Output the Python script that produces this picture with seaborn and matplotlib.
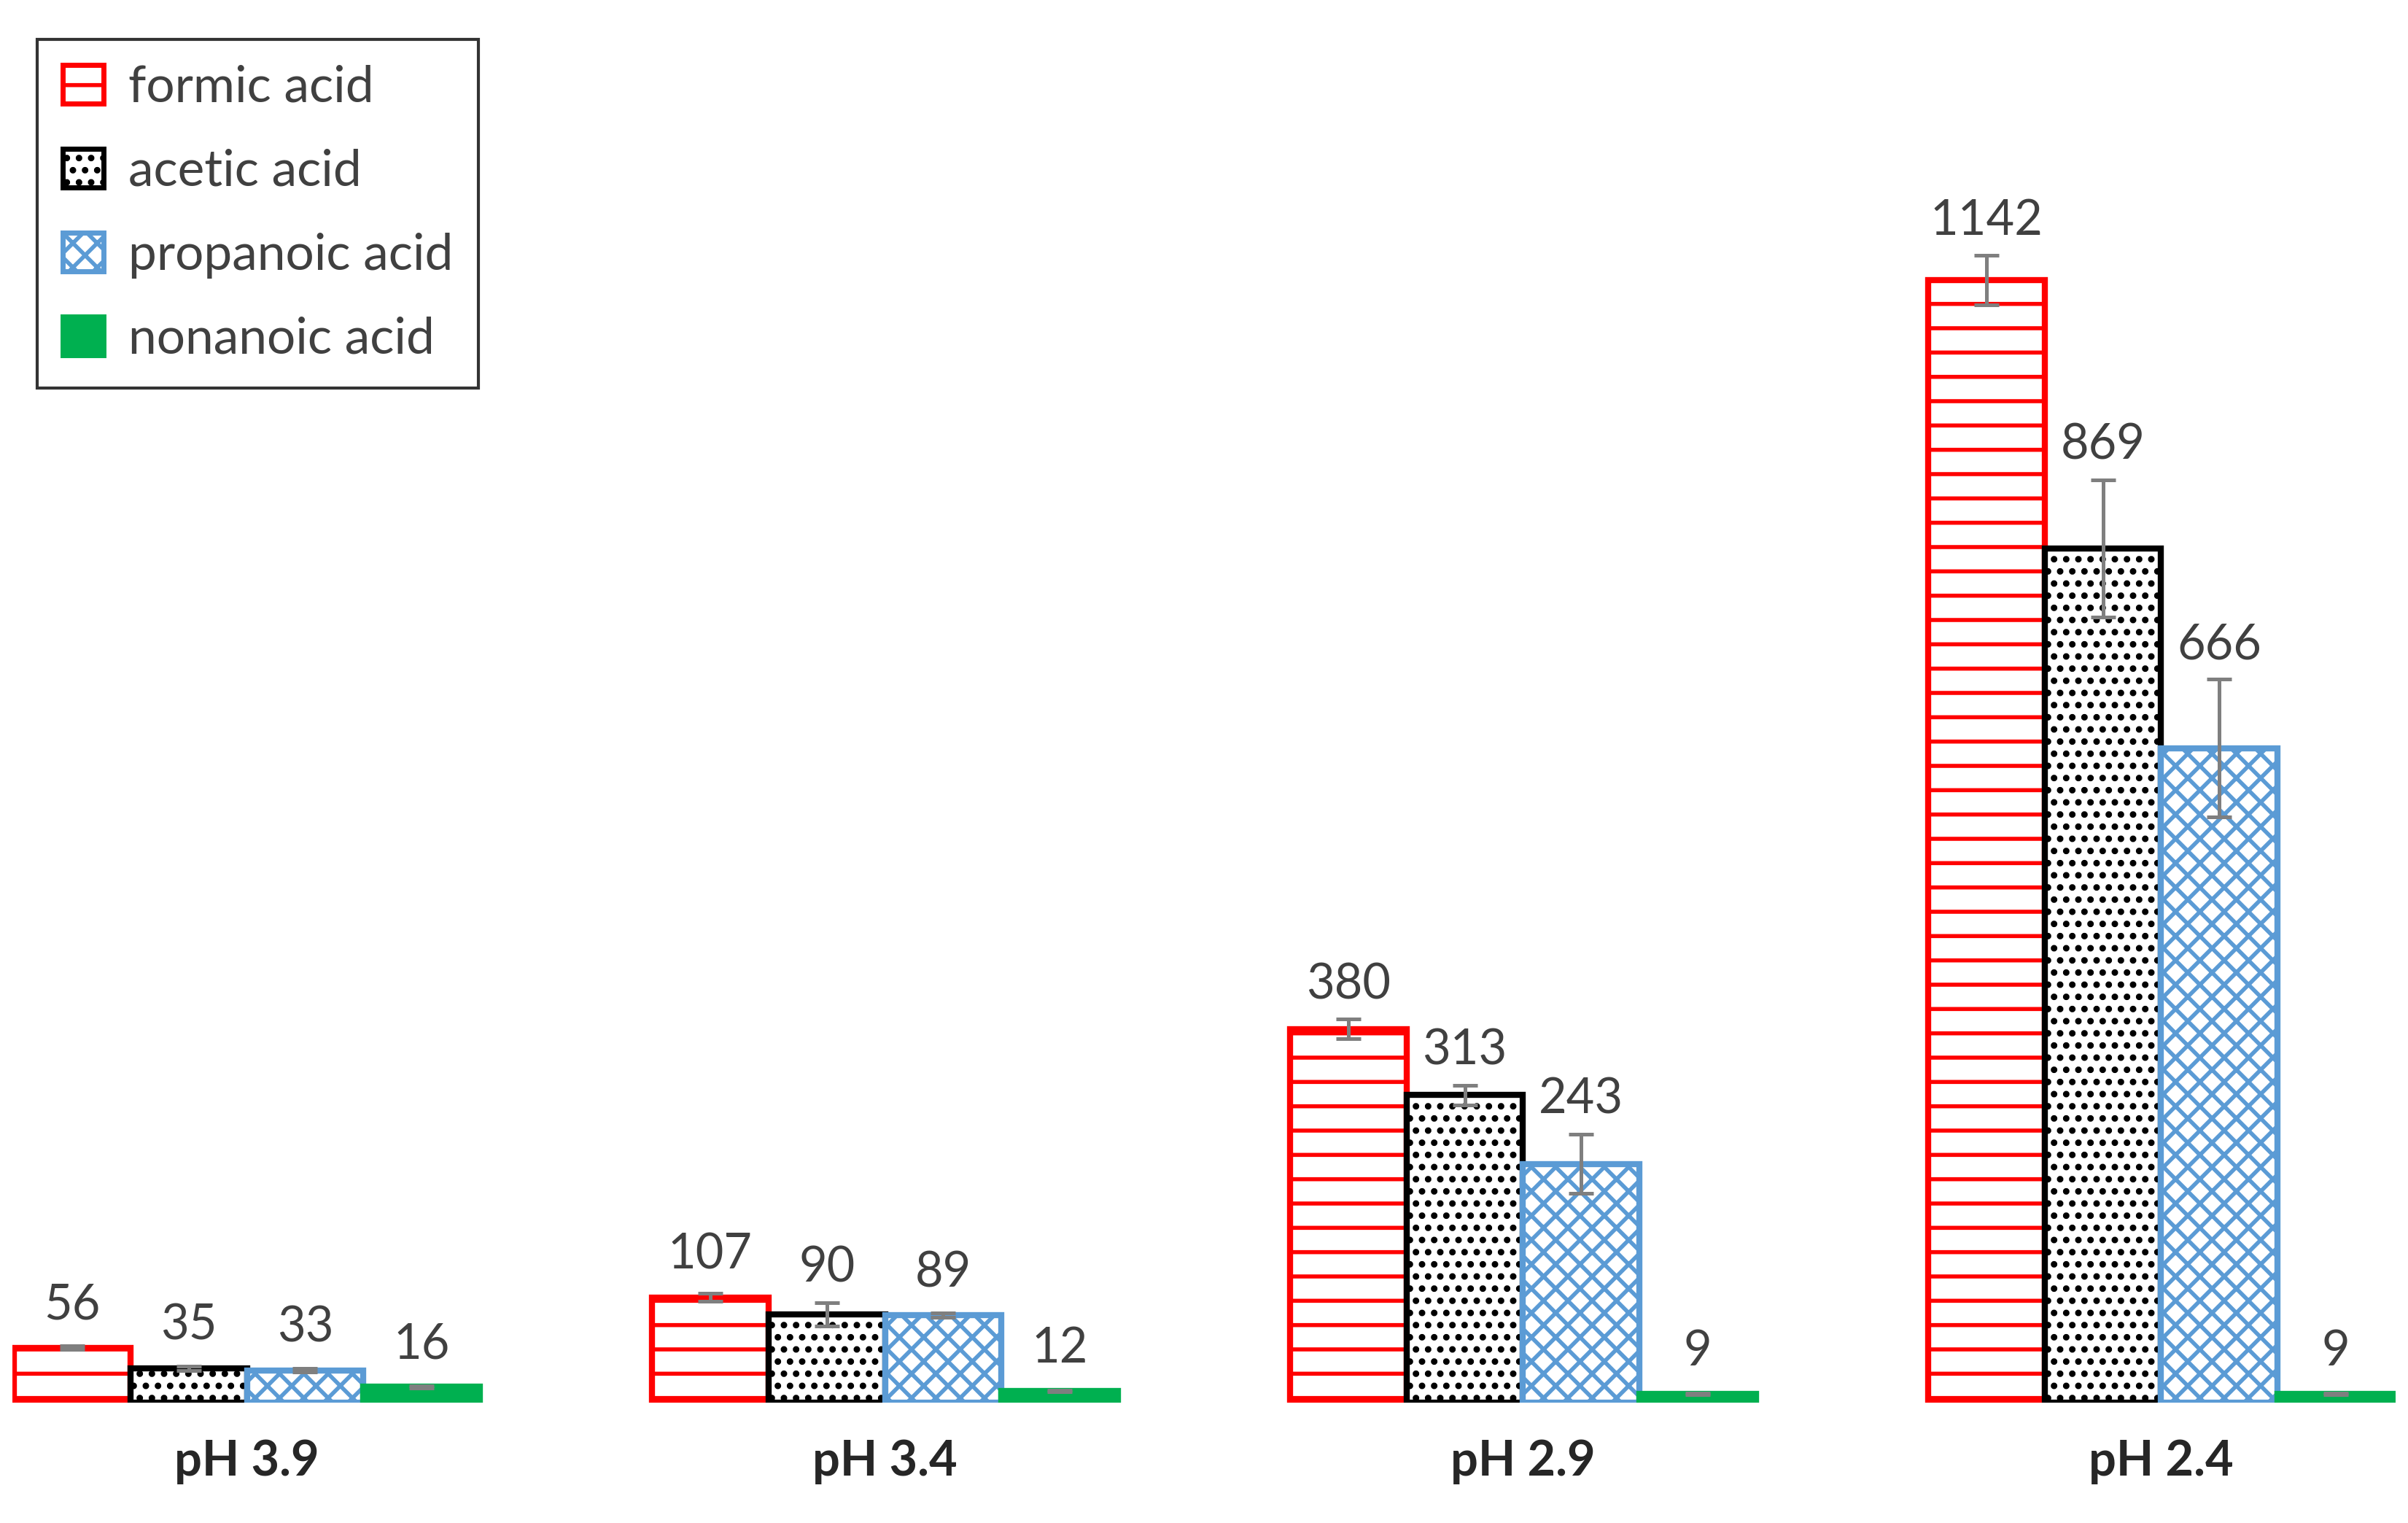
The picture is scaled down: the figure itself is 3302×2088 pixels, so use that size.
import matplotlib
matplotlib.use("Agg")
import matplotlib.pyplot as plt
import seaborn as sns
import pandas as pd
from matplotlib.patches import Patch

categories = ["pH 3.9", "pH 3.4", "pH 2.9", "pH 2.4"]
acids = ["formic acid", "acetic acid", "propanoic acid", "nonanoic acid"]
formic = [56, 107, 380, 1142]
acetic = [35, 90, 313, 869]
propanoic = [33, 89, 243, 666]
nonanoic = [16, 12, 9, 9]
formic_err = [2, 4, 10, 25]
acetic_err = [2, 12, 10, 70]
propanoic_err = [2, 2, 30, 70]
nonanoic_err = [1, 1, 1, 1]

values = [formic, acetic, propanoic, nonanoic]
errs = [formic_err, acetic_err, propanoic_err, nonanoic_err]
rows = []
for a, v in zip(acids, values):
    for c, x in zip(categories, v):
        rows.append({"cat": c, "acid": a, "val": x})
df = pd.DataFrame(rows)

sns.set_style("white")
plt.rcParams['font.family'] = ['Lato', 'DejaVu Sans']
plt.rcParams['hatch.linewidth'] = 2.0

fig = plt.figure(figsize=(16.51, 10.44), dpi=200)
ax = fig.add_axes([0.005, 0.079, 0.99, 0.921])

edge = ["#FF0000", "#000000", "#5B9BD5", "#00B050"]
face = ["white", "white", "white", "#00B050"]
hatch = ["-", "..", "xx", None]

sns.barplot(data=df, x="cat", y="val", hue="acid", order=categories,
            hue_order=acids, ax=ax, width=0.73, legend=False, errorbar=None)

bar_conts = list(ax.containers)
for i, cont in enumerate(bar_conts):
    for j, p in enumerate(cont.patches):
        p.set_facecolor(face[i])
        p.set_edgecolor(edge[i])
        p.set_linewidth(3)
        if hatch[i]:
            p.set_hatch(hatch[i])
        cx = p.get_x() + p.get_width() / 2
        h = p.get_height()
        e = errs[i][j]
        ax.errorbar(cx, h, yerr=e, color="#7f7f7f", capsize=6, elinewidth=1.8,
                    capthick=1.8, fmt="none", zorder=5)
        ax.text(cx, h + max(e, 8) + 12, str(values[i][j]), ha="center", va="bottom",
                fontsize=24, color="#404040")

ax.set_ylim(0, 1427)
ax.set_xlim(-0.368, 3.368)
ax.set_yticks([])
ax.set_xlabel("")
ax.set_ylabel("")
ax.tick_params(axis="x", length=0, pad=18)
for lab in ax.get_xticklabels():
    lab.set_fontweight("bold")
    lab.set_fontsize(24)
for s in ax.spines.values():
    s.set_visible(False)

handles = [Patch(facecolor=face[i], edgecolor=edge[i], hatch=hatch[i], linewidth=2.5)
           for i in range(4)]
leg = ax.legend(handles, acids, loc="upper left", bbox_to_anchor=(0.0, 0.99),
                fontsize=25, frameon=True, fancybox=False, edgecolor="black",
                handlelength=0.8, handleheight=0.8, labelspacing=0.75,
                borderpad=0.5, handletextpad=0.5)
leg.get_frame().set_linewidth(1.5)
for t in leg.get_texts():
    t.set_color("#404040")

fig.savefig("out.png", dpi=200)
